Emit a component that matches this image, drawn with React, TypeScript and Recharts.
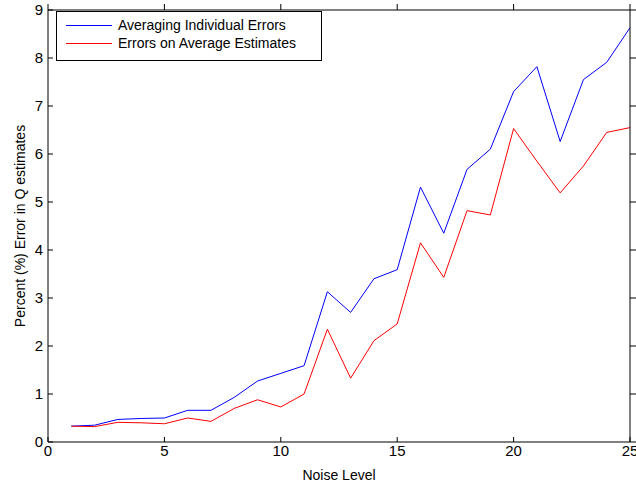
import React from 'react';
import { LineChart, Line, XAxis, YAxis } from 'recharts';

const noiseLevels = [1, 2, 3, 4, 5, 6, 7, 8, 9, 10, 11, 12, 13, 14, 15, 16, 17, 18, 19, 20, 21, 22, 23, 24, 25];
const avgIndividualErrors = [0.33, 0.35, 0.47, 0.49, 0.5, 0.66, 0.66, 0.93, 1.27, 1.43, 1.59, 3.13, 2.7, 3.4, 3.59, 5.31, 4.35, 5.68, 6.1, 7.3, 7.82, 6.26, 7.55, 7.91, 8.63];
const errorsOnAvgEstimates = [0.33, 0.32, 0.41, 0.4, 0.38, 0.5, 0.43, 0.7, 0.88, 0.73, 1.0, 2.35, 1.33, 2.11, 2.46, 4.15, 3.43, 4.82, 4.73, 6.53, 5.85, 5.19, 5.75, 6.45, 6.55];
const xTicks = [0, 5, 10, 15, 20, 25];
const yTicks = [0, 1, 2, 3, 4, 5, 6, 7, 8, 9];

const data = noiseLevels.map((n, i) => ({
  noise: n,
  individual: avgIndividualErrors[i],
  average: errorsOnAvgEstimates[i],
}));

const FONT = '"Liberation Sans", Arial, sans-serif';

const LegendBox = () => (
  <div
    style={{
      position: 'absolute',
      left: 56,
      top: 11,
      boxSizing: 'border-box',
      width: 266,
      height: 50,
      border: '1px solid #000',
      background: '#fff',
      padding: '4px 0 0 9px',
      fontFamily: FONT,
      fontSize: 14,
      lineHeight: '18px',
      color: '#000',
    }}
  >
    <div style={{ display: 'flex', alignItems: 'center' }}>
      <span style={{ display: 'inline-block', width: 46, height: 0, borderTop: '1px solid #0000ff', marginRight: 6 }} />
      Averaging Individual Errors
    </div>
    <div style={{ display: 'flex', alignItems: 'center' }}>
      <span style={{ display: 'inline-block', width: 46, height: 0, borderTop: '1px solid #ff0000', marginRight: 6 }} />
      Errors on Average Estimates
    </div>
  </div>
);

export default function App() {
  const tickStyle = { fill: '#000', fontSize: 15, fontFamily: FONT };
  return (
    <div style={{ position: 'absolute', left: 0, top: 0, width: 636, height: 482, background: '#fff', overflow: 'hidden' }}>
      {/* chart is 10px taller and 14px wider than the page; the extra top/right axes sit in the cropped strip */}
      <div style={{ position: 'absolute', left: 0, top: -10 }}>
        <LineChart width={650} height={492} data={data} margin={{ top: 0, right: 0, bottom: 0, left: 0 }}>
          <XAxis
            dataKey="noise"
            type="number"
            domain={[0, 25]}
            ticks={xTicks}
            allowDataOverflow
            stroke="#000"
            tickSize={-5}
            tickMargin={8}
            tick={tickStyle}
            height={40}
            label={{ value: 'Noise Level', position: 'insideBottom', offset: 2, fill: '#000', fontSize: 14, fontFamily: FONT }}
          />
          <XAxis
            xAxisId="top"
            dataKey="noise"
            orientation="top"
            type="number"
            domain={[0, 25]}
            ticks={xTicks}
            stroke="#000"
            tick={{ fill: 'transparent' }}
            height={20}
          />
          <YAxis
            type="number"
            domain={[0, 9]}
            ticks={yTicks}
            stroke="#000"
            tickSize={-5}
            tickMargin={10}
            tick={tickStyle}
            width={48}
            label={{ value: 'Percent (%) Error in Q estimates', angle: -90, position: 'insideLeft', offset: 20, style: { textAnchor: 'middle' }, fill: '#000', fontSize: 14, fontFamily: FONT }}
          />
          <YAxis
            yAxisId="right"
            orientation="right"
            type="number"
            domain={[0, 9]}
            ticks={yTicks}
            stroke="#000"
            tick={{ fill: 'transparent' }}
            width={20}
          />
          <Line xAxisId="top" yAxisId="right" type="linear" dataKey="individual" stroke="#0000ff" strokeWidth={1} dot={false} isAnimationActive={false} />
          <Line type="linear" dataKey="average" stroke="#ff0000" strokeWidth={1} dot={false} isAnimationActive={false} />
        </LineChart>
      </div>
      <LegendBox />
    </div>
  );
}
